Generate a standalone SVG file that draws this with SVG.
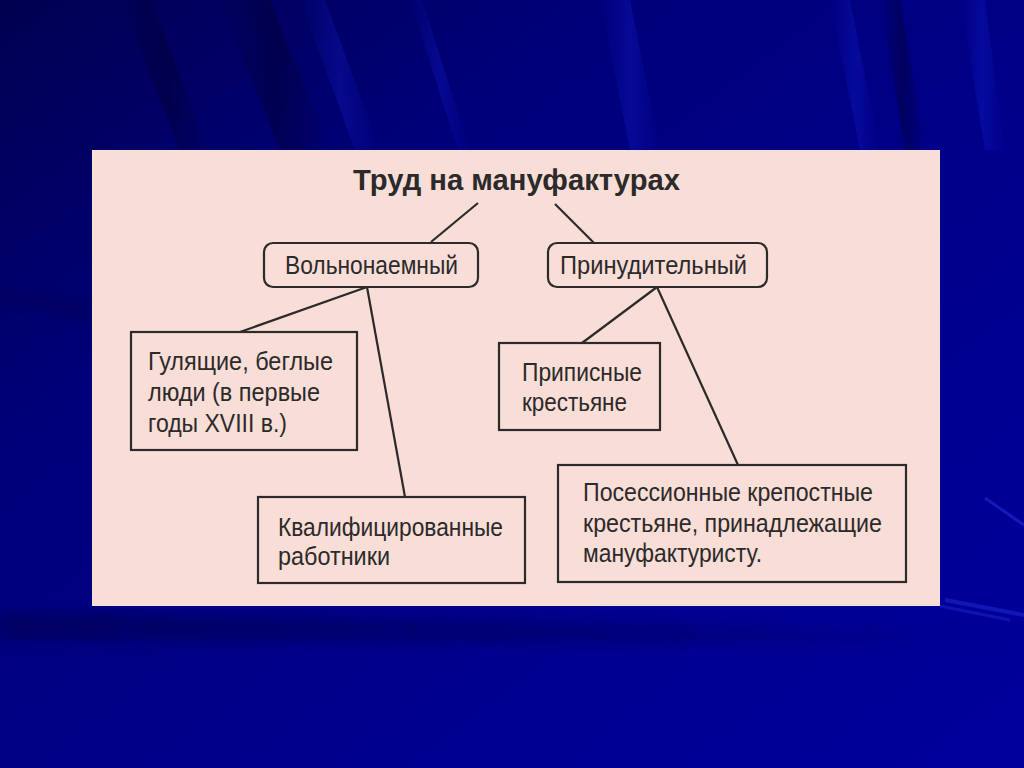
<svg xmlns="http://www.w3.org/2000/svg" width="1024" height="768" viewBox="0 0 1024 768">
  <defs>
    <linearGradient id="bg" x1="0" y1="0" x2="1" y2="1">
      <stop offset="0" stop-color="#000050"/>
      <stop offset="0.3" stop-color="#00007a"/>
      <stop offset="0.7" stop-color="#000090"/>
      <stop offset="1" stop-color="#00009c"/>
    </linearGradient>
    <linearGradient id="streakL" x1="0" y1="0" x2="1" y2="0">
      <stop offset="0" stop-color="#1a2cf0" stop-opacity="0"/>
      <stop offset="0.5" stop-color="#1a2cf0" stop-opacity="0.22"/>
      <stop offset="1" stop-color="#1a2cf0" stop-opacity="0"/>
    </linearGradient>
    <linearGradient id="streakD" x1="0" y1="0" x2="1" y2="0">
      <stop offset="0" stop-color="#000030" stop-opacity="0"/>
      <stop offset="0.5" stop-color="#000030" stop-opacity="0.45"/>
      <stop offset="1" stop-color="#000030" stop-opacity="0"/>
    </linearGradient>
    <linearGradient id="bandFade" x1="0" y1="0" x2="1" y2="0">
      <stop offset="0" stop-color="#000040" stop-opacity="0.45"/>
      <stop offset="0.6" stop-color="#000040" stop-opacity="0.3"/>
      <stop offset="1" stop-color="#000040" stop-opacity="0"/>
    </linearGradient>
    <filter id="soft" x="-10%" y="-100%" width="120%" height="300%">
      <feGaussianBlur stdDeviation="6"/>
    </filter>
    <style>
      .box { fill: none; stroke: #2c2a2a; stroke-width: 2.2; }
      .lbl { font-family: "Liberation Sans", Arial, sans-serif; font-size: 26px; fill: #2c2a2a; }
      .ttl { font-family: "Liberation Sans", Arial, sans-serif; font-size: 30px; font-weight: bold; fill: #2c2a2a; }
      .conn line { stroke: #2c2a2a; stroke-width: 2.2; }
    </style>
  </defs>

  <!-- background -->
  <rect x="0" y="0" width="1024" height="768" fill="url(#bg)"/>
  <g id="background-streaks">
    <polygon points="220,0 270,0 330,150 280,150" fill="url(#streakD)"/>
    <polygon points="120,0 150,0 210,150 180,150" fill="url(#streakD)"/>
    <polygon points="300,0 325,0 380,150 355,150" fill="url(#streakL)"/>
    <polygon points="410,0 422,0 470,150 458,150" fill="url(#streakL)"/>
    <polygon points="600,0 630,0 660,150 630,150" fill="url(#streakL)"/>
    <polygon points="830,0 850,0 880,150 860,150" fill="url(#streakL)"/>
    <polygon points="880,0 900,0 925,150 905,150" fill="url(#streakD)"/>
    <polygon points="960,0 985,0 1005,150 985,150" fill="url(#streakL)"/>
    <polygon points="0,612 1024,630 1024,645 0,640" fill="url(#bandFade)" filter="url(#soft)"/>
    <polygon points="0,290 92,305 92,320 0,300" fill="#000040" opacity="0.3" filter="url(#soft)"/>
    <line x1="985" y1="498" x2="1024" y2="525" stroke="#3a4cff" stroke-width="3" opacity="0.35"/>
    <line x1="945" y1="600" x2="1024" y2="615" stroke="#3a4cff" stroke-width="4" opacity="0.3"/>
    <line x1="940" y1="606" x2="1010" y2="620" stroke="#3a4cff" stroke-width="3" opacity="0.25"/>
  </g>

  <!-- panel -->
  <rect id="panel" x="92" y="150" width="848" height="456" fill="#f9ddd7"/>

  <!-- connectors -->
  <g id="connectors" class="conn">
    <line x1="478" y1="203" x2="431" y2="242"/>
    <line x1="555" y1="204" x2="594" y2="243"/>
    <line x1="367" y1="287" x2="240" y2="332"/>
    <line x1="367" y1="287" x2="405" y2="497"/>
    <line x1="657" y1="287" x2="582" y2="343"/>
    <line x1="657" y1="287" x2="738" y2="465"/>
  </g>

  <g id="title">
    <text class="ttl" x="353" y="190" textLength="327" lengthAdjust="spacingAndGlyphs">Труд на мануфактурах</text>
  </g>

  <g id="node-volnonaemny">
    <rect class="box" x="264" y="243" width="214" height="44" rx="9"/>
    <text class="lbl" x="285" y="274" textLength="173" lengthAdjust="spacingAndGlyphs">Вольнонаемный</text>
  </g>

  <g id="node-prinuditelny">
    <rect class="box" x="548" y="243" width="219" height="44" rx="9"/>
    <text class="lbl" x="560" y="274" textLength="187" lengthAdjust="spacingAndGlyphs">Принудительный</text>
  </g>

  <g id="node-gulyashchie">
    <rect class="box" x="131" y="332" width="226" height="118"/>
    <text class="lbl" x="148" y="370" textLength="185" lengthAdjust="spacingAndGlyphs">Гулящие, беглые</text>
    <text class="lbl" x="148" y="401" textLength="172" lengthAdjust="spacingAndGlyphs">люди (в первые</text>
    <text class="lbl" x="148" y="432" textLength="139" lengthAdjust="spacingAndGlyphs">годы XVIII в.)</text>
  </g>

  <g id="node-kvalificirovannye">
    <rect class="box" x="258" y="497" width="267" height="86"/>
    <text class="lbl" x="278" y="536" textLength="225" lengthAdjust="spacingAndGlyphs">Квалифицированные</text>
    <text class="lbl" x="278" y="565" textLength="112" lengthAdjust="spacingAndGlyphs">работники</text>
  </g>

  <g id="node-pripisnye">
    <rect class="box" x="499" y="343" width="161" height="87"/>
    <text class="lbl" x="522" y="381" textLength="120" lengthAdjust="spacingAndGlyphs">Приписные</text>
    <text class="lbl" x="522" y="411" textLength="105" lengthAdjust="spacingAndGlyphs">крестьяне</text>
  </g>

  <g id="node-possessionnye">
    <rect class="box" x="558" y="465" width="348" height="117"/>
    <text class="lbl" x="583" y="501" textLength="290" lengthAdjust="spacingAndGlyphs">Посессионные крепостные</text>
    <text class="lbl" x="583" y="532" textLength="299" lengthAdjust="spacingAndGlyphs">крестьяне, принадлежащие</text>
    <text class="lbl" x="583" y="562" textLength="179" lengthAdjust="spacingAndGlyphs">мануфактуристу.</text>
  </g>
</svg>
